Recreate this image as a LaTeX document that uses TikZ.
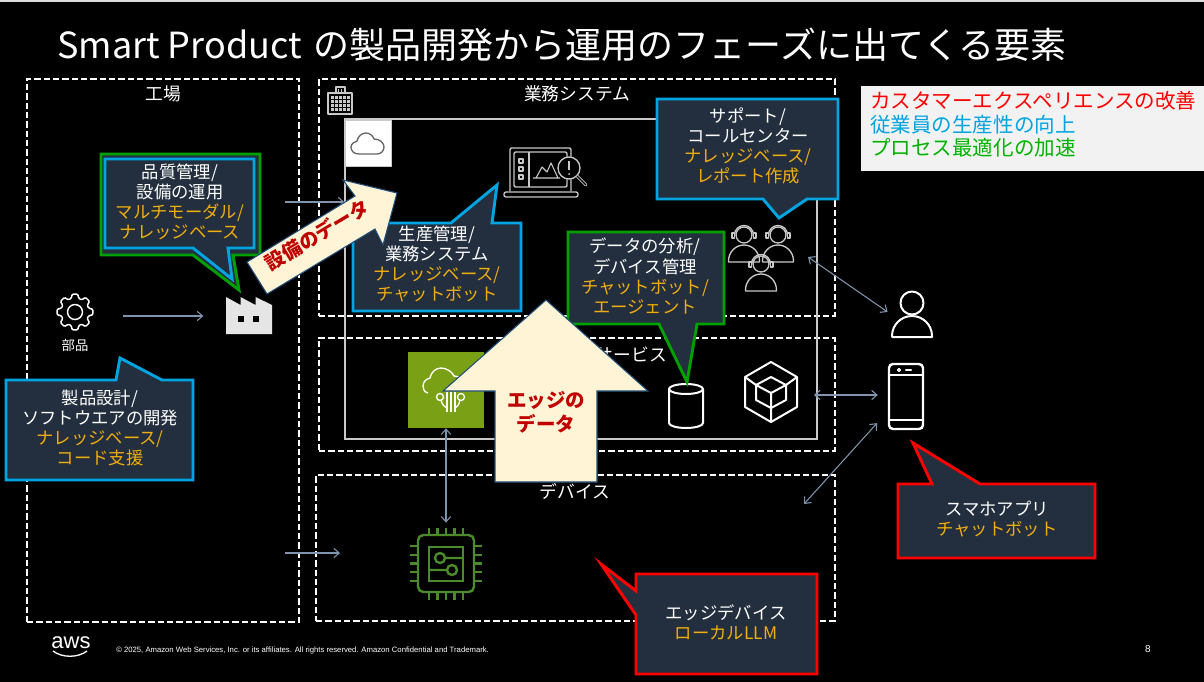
\documentclass[tikz,border=0pt]{standalone}
\usepackage{fontspec}
\setmainfont{Noto Sans CJK JP}
\newfontfamily\footfont{Liberation Sans}
\usetikzlibrary{arrows.meta,calc}
\definecolor{callfill}{HTML}{232F3E}
\definecolor{gold}{HTML}{F2AE0B}
\definecolor{skyline}{HTML}{00A4E0}
\definecolor{leafline}{HTML}{00A000}
\definecolor{slate}{HTML}{8194AE}
\definecolor{cream}{HTML}{FFF4D6}
\definecolor{brick}{HTML}{C00000}
\definecolor{chipgreen}{HTML}{4B8B2B}
\definecolor{softgrey}{HTML}{C9C9C9}
\definecolor{olivebox}{HTML}{7AA116}
\definecolor{arrowline}{HTML}{1F4E79}
\tikzset{
 dashbox/.style={draw=white,line width=1pt,dash pattern=on 4.8pt off 2.2pt,inner sep=0pt},
 spot/.style={inner sep=0pt,outer sep=0pt},
 link/.style={draw=slate,line width=.8pt,{Straight Barb[length=4pt,width=7pt]}-{Straight Barb[length=4pt,width=7pt]}},
 feed/.style={draw=slate,line width=.8pt,-{Straight Barb[length=4pt,width=7pt]}},
 callout/.style={fill=callfill,line width=2.2pt,line join=miter},
 note/.style={text=white,align=center,inner sep=0pt,font=\fontsize{13}{15.1}\selectfont},
 label/.style={text=white,inner sep=0pt,font=\fontsize{13.3}{16}\selectfont},
 legendline/.style={inner sep=0pt,anchor=west,font=\fontsize{15.4}{18}\selectfont},
 bigarrow/.style={fill=cream,draw=arrowline,line width=.8pt,line join=miter},
 redtext/.style={text=brick,align=center,inner sep=0pt,font=\fontsize{14.6}{18}\selectfont\bfseries},
 iconw/.style={draw=white,line width=1.5pt,line join=round},
 icong/.style={draw=softgrey,line width=1pt,line join=round}
}
\newcommand{\ylw}[1]{\textcolor{gold}{#1}}
\begin{document}
\begin{tikzpicture}[x=.75pt,y=-.75pt]
\useasboundingbox (0,0) rectangle (1204,682);
\fill[black] (0,0) rectangle (1204,682);
\fill[gray!25] (0,0) rectangle (1204,2);
\node[text=white,inner sep=0pt,anchor=base west,font=\fontsize{27}{30}\selectfont] (headline) at (57,58) {Smart Product\hspace{3pt} の製品開発から運用のフェーズに出てくる要素};

\node[dashbox,minimum width=272*.75pt,minimum height=543*.75pt] (plantbox) at (163,350.5) {};
\node[dashbox,minimum width=516*.75pt,minimum height=237*.75pt] (bizbox) at (577,197.5) {};
\node[dashbox,minimum width=516*.75pt,minimum height=113*.75pt] (svcbox) at (577,394.5) {};
\node[dashbox,minimum width=519*.75pt,minimum height=146*.75pt] (devbox) at (575.5,548) {};
\node[draw=softgrey,line width=1pt,inner sep=0pt,minimum width=472*.75pt,minimum height=320*.75pt] (system) at (581,279) {};
\node[label] (plantlabel) at (163,94) {工場};
\node[label] (bizlabel) at (577,94) {業務システム};
\node[label,anchor=east] (svclabel) at (667,355) {サービス};
\node[label] (devlabel) at (575,491) {デバイス};

\node[fill=white,draw=softgrey,line width=.5pt,inner sep=0pt,minimum size=46*.75pt] (cloudtag) at (368,143) {};
\draw[draw=gray!80!black,line width=1pt] (359,154) .. controls (353,154) and (351,150) .. (351,147) .. controls (351,144) and (354,142) .. (357,141) .. controls (358,136) and (362,133) .. (366,133) .. controls (370,133) and (373,136) .. (374,139) .. controls (380,139) and (384,143) .. (384,147) .. controls (384,151) and (381,154) .. (377,154) -- cycle;
\draw[icong] (328,114) rectangle (352,93) (336,93) -- (336,87) -- (345,87) -- (345,93);
\foreach \y in {96,100,104,108} \foreach \x in {331,335,339,343,347} \fill[softgrey] (\x,\y) rectangle +(2.6,2.6);
\foreach \x in {338.5,341.5} \draw[softgrey,line width=.8pt] (\x,89) -- (\x,93);

\node[spot,minimum width=36*.75pt,minimum height=36*.75pt] (gear) at (75,316) {};
\begin{scope}[shift={(75,312)}]
\draw[draw=white,line width=1.1pt,rounded corners=.8pt] (-16:14) \foreach \a in {0,45,...,315}{ -- (\a-16:14) -- (\a-9:18) -- (\a+9:18) -- (\a+16:14) } -- cycle;
\draw[draw=white,line width=1.1pt] (0,0) circle (7.5);
\end{scope}
\node[text=white,inner sep=0pt,font=\fontsize{10}{12}\selectfont] (partslabel) at (75,345) {部品};

\node[spot,minimum width=46*.75pt,minimum height=38*.75pt] (plant) at (249,316) {};
\fill[gray!20] (226,334) -- (226,297) -- (240.5,305) -- (240.5,297) -- (255.5,305) -- (255.5,297) -- (272,305) -- (272,334) -- cycle;
\foreach \x in {241,256} \fill[black] (\x-3,316) rectangle (\x+3,322);

\draw[icong,rounded corners=1pt] (510,191) -- (510,148) -- (571,148) -- (571,191);
\draw[icong,rounded corners=1pt] (514,187) -- (514,152) -- (567,152) -- (567,187) -- cycle;
\draw[icong] (529,152) -- (529,187);
\draw[icong,rounded corners=1.5pt] (504,192) rectangle (578,197);
\foreach \y in {161,169,177} \draw[icong,line width=.8pt] (519,\y-2) rectangle (523,\y+2);
\draw[icong,line width=.8pt] (533,178) -- (560,178) (536,178) -- (542,167) -- (547,172) -- (551,163) -- (558,178);
\draw[icong,fill=black] (569,168) circle (11);
\draw[icong,line width=2.2pt,line cap=round] (577,176) -- (586,185);
\draw[black,line width=1pt,line cap=round] (577,176) -- (586,185);
\draw[softgrey,line width=1.4pt] (569,161) -- (569,170);
\fill[softgrey] (569,174) circle (1);

\node[spot,minimum width=90*.75pt,minimum height=66*.75pt] (agents) at (763,257) {};
\foreach \x/\y in {744/235,778/235,761/264} {
\draw[icong] (\x,\y) circle (8);
\draw[icong] (\x-9.5,\y) arc[start angle=180,end angle=360,radius=9.5];
\draw[icong,fill=black] (\x-12,\y-2) rectangle (\x-9.5,\y+3) (\x+9.5,\y-2) rectangle (\x+12,\y+3);
\draw[icong] (\x-15.5,\y+27) -- (\x-15.5,\y+26) arc[start angle=180,end angle=360,x radius=15.5,y radius=16] -- (\x+15.5,\y+27) -- cycle;
}

\node[spot,minimum width=40*.75pt,minimum height=45*.75pt] (user) at (912,315) {};
\draw[iconw] (912,303) circle (11.5);
\draw[iconw] (892,337) -- (892,336) arc[start angle=180,end angle=360,x radius=20,y radius=20] -- (932,337) -- cycle;

\node[draw=white,line width=1.8pt,rounded corners=3pt,inner sep=0pt,minimum width=34*.75pt,minimum height=65*.75pt] (phone) at (906,396.5) {};
\draw[iconw] (889,375) -- (923,375) (889,420) -- (923,420);
\draw[iconw,line width=1pt] (899,370) circle (1.5);
\draw[white,line width=1.8pt,line cap=round] (906,370) -- (911,370);

\node[fill=olivebox,inner sep=0pt,minimum size=76*.75pt] (edgebox) at (446,390) {};
\draw[draw=white,line width=1pt] (428,393) .. controls (424,392) and (423,389) .. (423,386) .. controls (423,382) and (426,379) .. (430,378) .. controls (431,372) and (436,368) .. (441,368) .. controls (447,368) and (452,372) .. (454,376) .. controls (460,376) and (466,380) .. (468,386);
\foreach \x in {440,461} \draw[draw=white,line width=1pt] (\x,397) circle (3.5);
\foreach \x in {447,451,455} \draw[draw=white,line width=1pt] (\x,392) -- (\x,412);
\draw[draw=white,line width=1pt] (441,400) .. controls (442,405) and (445,407) .. (447,408) (460,400) .. controls (459,405) and (457,407) .. (455,408);

\node[spot,minimum width=35*.75pt,minimum height=45*.75pt] (store) at (686,407) {};
\draw[iconw] (669,389) -- (669,423) arc[start angle=180,end angle=0,x radius=17,y radius=5] -- (703,389);
\draw[iconw] (686,389) ellipse (17 and 5);

\node[spot,minimum width=52*.75pt,minimum height=60*.75pt] (cube) at (771,395) {};
\draw[iconw] (771,362) -- (797,377) -- (797,407) -- (771,422) -- (745,407) -- (745,377) -- cycle;
\draw[iconw] (771,377) -- (786,385) -- (786,400) -- (771,408) -- (756,400) -- (756,385) -- cycle;
\draw[iconw] (756,385) -- (771,393) -- (786,385) (771,393) -- (771,408) (745,377) -- (756,385) (797,377) -- (786,385) (771,408) -- (771,422);

\node[spot,minimum width=56*.75pt,minimum height=72*.75pt] (chip) at (446,564) {};
\draw[chipgreen,line width=1.8pt,rounded corners=4pt] (418,535) rectangle (474,592);
\foreach \p in {429,437.5,446,454.5,463} \draw[chipgreen,line width=1.8pt] (\p,528) -- (\p,535) (\p,592) -- (\p,600);
\foreach \p in {546,555,563.5,572,581} \draw[chipgreen,line width=1.8pt] (410,\p) -- (418,\p) (474,\p) -- (482,\p);
\draw[chipgreen,line width=1.8pt] (429,547) rectangle (463,581);
\draw[chipgreen,line width=1.8pt] (440,558) circle (5) (445,558) -- (463,558) (452,570) circle (5) (447,570) -- (429,570);

\coordinate (plantfeed) at (285,202);
\coordinate (devfeed) at (285,553);
\coordinate (devport) at (340,553);
\coordinate (devlink) at (804,504);
\draw[feed,shorten <=22.5pt,shorten >=17pt] (gear.east) -- (plant.west);
\draw[feed] (plantfeed) -- (plantfeed -| system.west);
\draw[feed] (devfeed) -- (devport);
\draw[link,shorten >=4pt] (edgebox.south) -- (chip.north);
\draw[link,shorten >=4pt] (agents.east) -- (user.west);
\draw[link,shorten <=12.7pt,shorten >=7.5pt] (cube.east) -- (cube.east -| phone.west);
\draw[link,shorten >=12pt] (devlink) -- (phone.219);

\draw[callout,draw=leafline] (101,154) -- (260,154) -- (260,255) -- (233,255) -- (239,290) -- (193,255) -- (101,255) -- cycle;
\draw[callout,draw=skyline] (105,159) -- (254,159) -- (254,248) -- (228,248) -- (232,279) -- (193,248) -- (105,248) -- cycle;
\node[note] (qualitynote) at (180,202) {品質管理/\\設備の運用\\\ylw{マルチモーダル/}\\\ylw{ナレッジベース}};

\draw[callout,draw=skyline] (353,223) -- (451,223) -- (497,185) -- (492,223) -- (521,223) -- (521,311) -- (353,311) -- cycle;
\node[note] (mesnote) at (437,264) {生産管理/\\業務システム\\\ylw{ナレッジベース/}\\\ylw{チャットボット}};

\draw[callout,draw=skyline] (657,99) -- (838,99) -- (838,199) -- (807,199) -- (779,218) -- (763,199) -- (657,199) -- cycle;
\node[note] (supportnote) at (748,146) {サポート/\\コールセンター\\\ylw{ナレッジベース/}\\\ylw{レポート作成}};

\draw[callout,draw=leafline] (568,232) -- (724,232) -- (724,324) -- (697,324) -- (687,382) -- (659,324) -- (568,324) -- cycle;
\node[note] (datanote) at (645,276) {データの分析/\\デバイス管理\\\ylw{チャットボット/}\\\ylw{エージェント}};

\draw[callout,draw=skyline] (6,380) -- (116,380) -- (120,358) -- (162,380) -- (193,380) -- (193,480) -- (6,480) -- cycle;
\node[note] (designnote) at (100,428) {製品設計/\\ソフトウエアの開発\\\ylw{ナレッジベース/}\\\ylw{コード支援}};

\draw[callout,draw=red] (898,484) -- (932,484) -- (913,443) -- (980,484) -- (1095,484) -- (1095,558) -- (898,558) -- cycle;
\node[note] (appnote) at (997,519) {スマホアプリ\\\ylw{チャットボット}};

\draw[callout,draw=red] (636,574) -- (817,574) -- (817,674) -- (636,674) -- (636,615) -- (601,564) -- (636,591) -- cycle;
\node[note] (llmnote) at (726,622) {エッジデバイス\\\ylw{ローカルLLM}};

\draw[bigarrow] (247,262) -- (355,196) -- (343,180) -- (397,193) -- (383,245) -- (375,229) -- (267,294) -- cycle;
\node[redtext,rotate=31] (plantdata) at (317,235) {設備のデータ};
\draw[bigarrow] (546,300) -- (648,391) -- (597,391) -- (597,482) -- (495,482) -- (495,391) -- (443,391) -- cycle;
\node[redtext] (edgedata) at (546,412) {エッジの\\データ};

\node[fill=gray!10,inner sep=0pt,minimum width=343*.75pt,minimum height=85*.75pt] (legend) at (1032.5,128.5) {};
\node[legendline,text=red] (cxline) at (870,101) {カスタマーエクスペリエンスの改善};
\node[legendline,text=skyline] (staffline) at (870,125) {従業員の生産性の向上};
\node[legendline,text=leafline!80!green] (flowline) at (870,148) {プロセス最適化の加速};

\node[text=white,inner sep=0pt,font=\fontsize{16.5}{18}\footfont] (awsmark) at (71,643) {aws};
\draw[white,line width=1pt] (53,651) .. controls (62,658) and (78,658) .. (87,651);
\node[text=white,inner sep=0pt,anchor=west,font=\fontsize{5.78}{7}\footfont] (footer) at (116,651) {© 2025, Amazon Web Services, Inc. or its affiliates. All rights reserved. Amazon Confidential and Trademark.};
\node[text=white,inner sep=0pt,font=\fontsize{7.5}{9}\footfont] (pagenum) at (1148,649) {8};
\end{tikzpicture}
\end{document}
